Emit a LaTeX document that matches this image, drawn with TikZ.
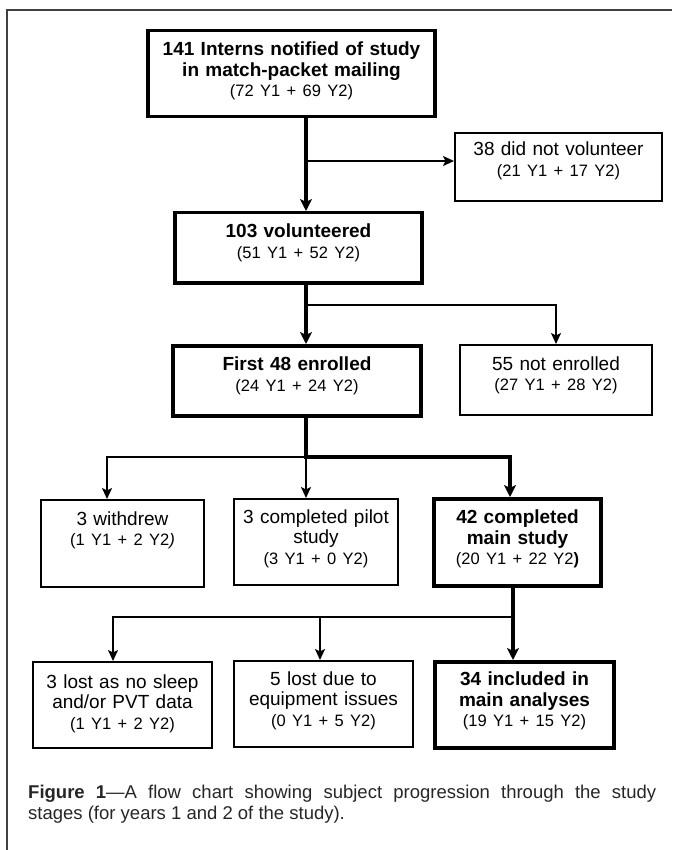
\documentclass[tikz,border=0pt]{standalone}
\usepackage{fontspec}
\setmainfont{Liberation Sans}
\usepackage{tikz}
\usetikzlibrary{arrows.meta,positioning,calc}

\newcommand{\effectif}[1]{{\fontsize{16.5}{20.5}\selectfont\mdseries #1}}

\begin{document}
\begin{tikzpicture}[x=1pt, y=-1pt,
    etape/.style={draw, line width=2pt, align=center, anchor=north, inner sep=0pt,
        font=\fontsize{19}{20.5}\selectfont, text height=25pt},
    etapeforte/.style={etape, line width=3.5pt, font=\fontsize{19}{20.5}\selectfont\bfseries},
    lien/.style={line width=2pt, -{Stealth[length=11pt, width=10pt, inset=2.5pt]}},
    lienfort/.style={line width=4pt, line join=miter, -{Stealth[length=12pt, width=12pt, inset=3pt]}}
    ]
    \useasboundingbox (0,0) rectangle (672,850);

    % Cadre
    \draw[line width=1.5pt, black!75] (7,850) -- (7,10) -- (672,10);

    % Points de branchement
    \coordinate (tronc) at (306,0);
    \coordinate (sep1) at (306,161);
    \coordinate (sep2) at (306,305);
    \coordinate (sep3) at (306,457);
    \coordinate (sep4) at (513,617);
    \coordinate (chute1) at (107,0);
    \coordinate (chute3) at (510,0);
    \coordinate (chute5) at (113,0);
    \coordinate (chute6) at (320,0);

    % Boites
    \node[etapeforte, text width=287pt, text depth=61pt] (notifies) at (291.5,29)
        {141 Interns notified of study\\in match-packet mailing\\\effectif{(72 Y1 + 69 Y2)}};
    \node[etape, text width=207pt, text depth=45pt, text height=23pt] (nonvol) at (558.5,132)
        {38 did not volunteer\\\effectif{(21 Y1 + 17 Y2)}};
    \node[etapeforte, text width=247pt, text depth=45pt] (volont) at (298.5,211)
        {103 volunteered\\\effectif{(51 Y1 + 52 Y2)}};
    \node[etapeforte, text width=248pt, text depth=45pt] (inscrits) at (297,344)
        {First 48 enrolled\\\effectif{(24 Y1 + 24 Y2)}};
    \node[etape, text width=192pt, text depth=45pt] (noninscr) at (556,344)
        {55 not enrolled\\\effectif{(27 Y1 + 28 Y2)}};
    \node[etape, text width=163pt, text depth=62pt] (retires) at (122.5,499)
        {3 withdrew\\\effectif{(1 Y1 + 2 Y2\textit{)}}};
    \node[etape, text width=164pt, text depth=62pt, text height=24pt] (pilote) at (316,498)
        {3 completed pilot\\study\\\effectif{(3 Y1 + 0 Y2)}};
    \node[etapeforte, text width=167pt, text depth=62pt] (principale) at (517.5,497)
        {42 completed\\main study\\\effectif{(20 Y1 + 22 Y2\textbf{)}}};
    \node[etape, text width=179pt, text depth=60pt, text height=26pt] (perdus3) at (122.5,661)
        {3 lost as no sleep\\and/or PVT data\\\effectif{(1 Y1 + 2 Y2)}};
    \node[etape, text width=179pt, text depth=62pt, text height=24pt] (perdus5) at (323.5,660)
        {5 lost due to\\equipment issues\\\effectif{(0 Y1 + 5 Y2)}};
    \node[etapeforte, text width=179pt, text depth=62pt, text height=24pt] (analyses) at (524.5,660)
        {34 included in\\main analyses\\\effectif{(19 Y1 + 15 Y2)}};

    % Liaisons
    \draw[lienfort] (notifies.south -| tronc) -- (volont.north -| tronc);
    \draw[lien] (sep1) -- (sep1 -| nonvol.west);
    \draw[lienfort] (volont.south -| tronc) -- (inscrits.north -| tronc);
    \draw[lien] (sep2) -| (noninscr.north);
    \draw[lien] (sep3) -| (chute1 |- retires.north);
    \draw[lien] (sep3) -- (sep3 |- pilote.north);
    \draw[lienfort] (inscrits.south -| tronc) -- (sep3) -| (chute3 |- principale.north);
    \draw[lienfort] (principale.south -| sep4) -- (sep4 |- analyses.north);
    \draw[lien] (sep4) -| (chute5 |- perdus3.north);
    \draw[lien] (sep4 -| chute6) -- (chute6 |- perdus5.north);

    % Legende
    \node[anchor=base west, text width=628pt, align=justify, inner sep=0pt,
        font=\fontsize{18.5}{21}\selectfont, text=black!85] (legende) at (28,798)
        {\textbf{Figure 1}—A flow chart showing subject progression through the study\linebreak
         stages (for years 1 and 2 of the study).};
\end{tikzpicture}
\end{document}
